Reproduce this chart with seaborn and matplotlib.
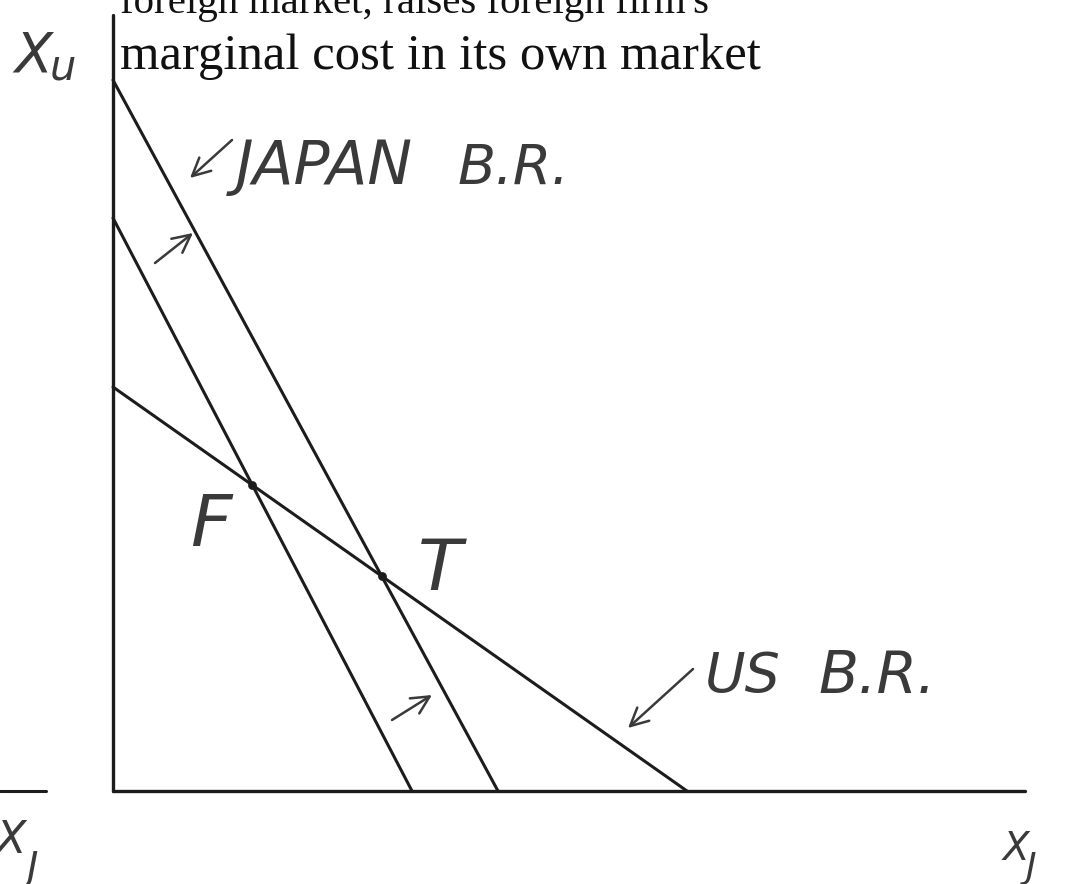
import numpy as np
import pandas as pd
import matplotlib
matplotlib.use("Agg")
import matplotlib.pyplot as plt
import seaborn as sns

# Best-response lines, given by their intercepts (X_J axis, X_U axis)
japan_br_before = [29.9, 57.3]
japan_br_after = [38.5, 71.1]
us_br = [57.4, 40.4]
# Lengths of the drawn axes
axis_len = [91.2, 77.6]

slide_lines = ["foreign market, raises foreign firm's",
               "marginal cost in its own market"]
eq_labels = ["F", "T"]

W, H = 1079, 884
ORIGIN = (113, 791)
SCALE = 10.0
ink = "#1c1c1c"
pencil = "#3a3a3a"

sns.set_theme(style="white")
plt.rcParams["font.family"] = ["DejaVu Sans"]

fig = plt.figure(figsize=(W / 100, H / 100), dpi=100)
ax = fig.add_axes([0, 0, 1, 1])
ax.set_xlim(-ORIGIN[0] / SCALE, (W - ORIGIN[0]) / SCALE)
ax.set_ylim((ORIGIN[1] - H) / SCALE, ORIGIN[1] / SCALE)
ax.set_axis_off()


def px(x, y):
    """Page position in pixels -> data coordinates."""
    return ((x - ORIGIN[0]) / SCALE, (ORIGIN[1] - y) / SCALE)


# best-response lines
rows = []
for name, (xi, yi) in {"japan_before": japan_br_before,
                       "japan_after": japan_br_after,
                       "us": us_br}.items():
    rows += [{"curve": name, "x": 0.0, "y": yi}, {"curve": name, "x": xi, "y": 0.0}]
df = pd.DataFrame(rows)
sns.lineplot(data=df, x="x", y="y", units="curve", estimator=None, sort=False,
             color=ink, lw=2.2, ax=ax, legend=False)

# axes
ax.plot([0, 0], [0, axis_len[1]], color=ink, lw=2.4, solid_capstyle="round")
ax.plot([0, axis_len[0]], [0, 0], color=ink, lw=2.4, solid_capstyle="round")
# stub of the neighbouring diagram's axis at the left edge
x0, _ = px(0, 0)
x1, _ = px(46, 0)
ax.plot([x0, x1], [0, 0], color=ink, lw=2.2)


def crossing(a, b):
    """Intersection of two lines given by intercepts (xi, yi)."""
    sa, sb = -a[1] / a[0], -b[1] / b[0]
    x = (b[1] - a[1]) / (sa - sb)
    return x, a[1] + sa * x


F = crossing(japan_br_before, us_br)
T = crossing(japan_br_after, us_br)
ax.scatter([F[0], T[0]], [F[1], T[1]], s=28, color=ink, zorder=5)

# slide text (top line runs off the page)
ax.text(*px(120, 13), slide_lines[0], va="baseline", ha="left",
        family=["Liberation Serif"], color="#111111", fontsize=29.5)
ax.text(*px(120, 69), slide_lines[1], va="baseline", ha="left",
        family=["Liberation Serif"], color="#111111", fontsize=36.5)

# handwritten annotations
hand = dict(family=["DejaVu Sans"], style="italic", weight="light",
            color=pencil)
ax.text(*px(14, 72), "X", fontsize=40, va="baseline", **hand)
ax.text(*px(50, 80), "u", fontsize=30, va="baseline", **hand)

ax.text(*px(236, 184), "JAPAN", fontsize=43, va="baseline", **hand)
ax.text(*px(458, 184), "B.R.", fontsize=40, va="baseline", **hand)
ax.text(*px(705, 692), "US", fontsize=40, va="baseline", **hand)
ax.text(*px(818, 693), "B.R.", fontsize=42, va="baseline", **hand)

ax.text(*px(190, 546), eq_labels[0], fontsize=52, va="baseline", **hand)
ax.text(*px(418, 590), eq_labels[1], fontsize=52, va="baseline", **hand)

ax.text(*px(1003, 860), "X", fontsize=28, va="baseline", **hand)
ax.text(*px(1026, 878), "J", fontsize=26, va="baseline", **hand)
ax.text(*px(-4, 853), "X", fontsize=32, va="baseline", **hand)
ax.text(*px(26, 880), "J", fontsize=28, va="baseline", **hand)

arrow = dict(arrowstyle="->", lw=1.8, color=pencil, mutation_scale=32,
             shrinkA=0, shrinkB=0)
for tail, head in [((232, 140), (190, 178)),
                   ((155, 263), (193, 233)),
                   ((392, 720), (432, 695)),
                   ((693, 669), (628, 728))]:
    ax.annotate("", xy=px(*head), xytext=px(*tail), arrowprops=arrow)

fig.savefig("out.png", dpi=100, facecolor="white")
